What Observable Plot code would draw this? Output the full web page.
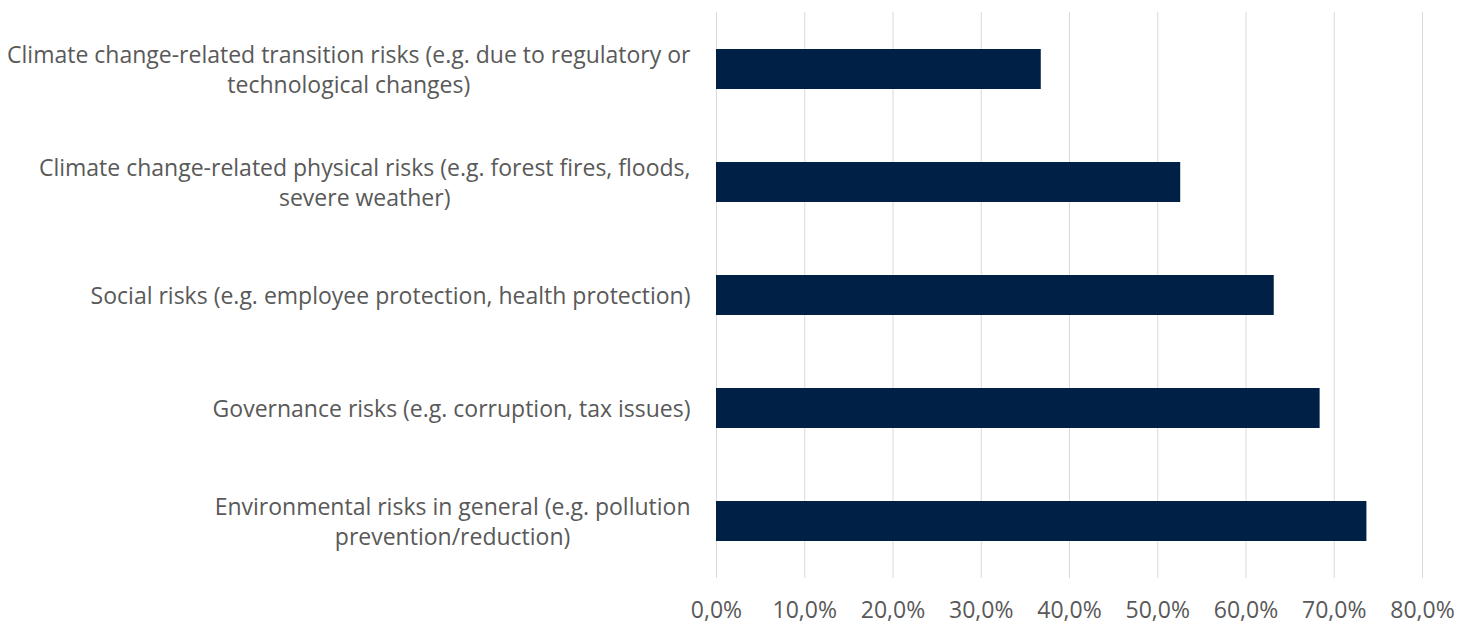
<!DOCTYPE html>
<html>
<head>
<meta charset="utf-8">
<script src="https://cdn.jsdelivr.net/npm/d3@7"></script>
<script src="https://cdn.jsdelivr.net/npm/@observablehq/plot@0.6"></script>
<style>
  html, body { margin: 0; padding: 0; background: #fff; }
  #chart { width: 1470px; height: 624px; }
</style>
</head>
<body>
<div id="chart"></div>
<script>
const categories = [
  "Climate change-related transition risks (e.g. due to regulatory or\ntechnological changes)",
  "Climate change-related physical risks (e.g. forest fires, floods,\nsevere weather)",
  "Social risks (e.g. employee protection, health protection)",
  "Governance risks (e.g. corruption, tax issues)",
  "Environmental risks in general (e.g. pollution\nprevention/reduction)"
];
const values = [36.8, 52.6, 63.2, 68.4, 73.7];
const xTicks = [0, 10, 20, 30, 40, 50, 60, 70, 80];

const data = categories.map((c, i) => ({category: c, value: values[i]}));

const FONT = "Open Sans";
const FS = 23;
const TEXT = "#595959";

const ctx = document.createElement("canvas").getContext("2d");
ctx.font = `${FS}px "${FONT}"`;
const blockWidth = s => Math.max(...s.split("\n").map(l => ctx.measureText(l).width));

const labelMarks = categories.map(c =>
  Plot.text([c], {
    y: d => d,
    text: d => d,
    frameAnchor: "left",
    textAnchor: "middle",
    dx: -(26 + blockWidth(c) / 2),
    dy: -1,
    lineHeight: 1.3,
    fill: TEXT,
    fontSize: FS
  })
);

const fmt = d => d.toFixed(1).replace(".", ",") + "%";

const chart = Plot.plot({
  width: 1470,
  height: 624,
  marginLeft: 716,
  marginRight: 48,
  marginTop: 12,
  marginBottom: 46,
  style: {fontFamily: `"${FONT}"`, fontSize: FS + "px", color: TEXT, background: "#fff"},
  x: {domain: [0, 80], ticks: xTicks, tickFormat: fmt, label: null, axis: null},
  y: {domain: categories, paddingInner: 0.646, paddingOuter: 0.323, axis: null},
  marks: [
    Plot.gridX(xTicks, {stroke: "#d9d9d9", strokeOpacity: 1, strokeWidth: 1}),
    Plot.barX(data, {y: "category", x: "value", fill: "#002045"}),
    Plot.axisX({ticks: xTicks, tickFormat: fmt, tickSize: 0, tickPadding: 23, label: null, fill: TEXT, fontSize: FS}),
    ...labelMarks
  ]
});
document.getElementById("chart").appendChild(chart);
</script>
</body>
</html>
